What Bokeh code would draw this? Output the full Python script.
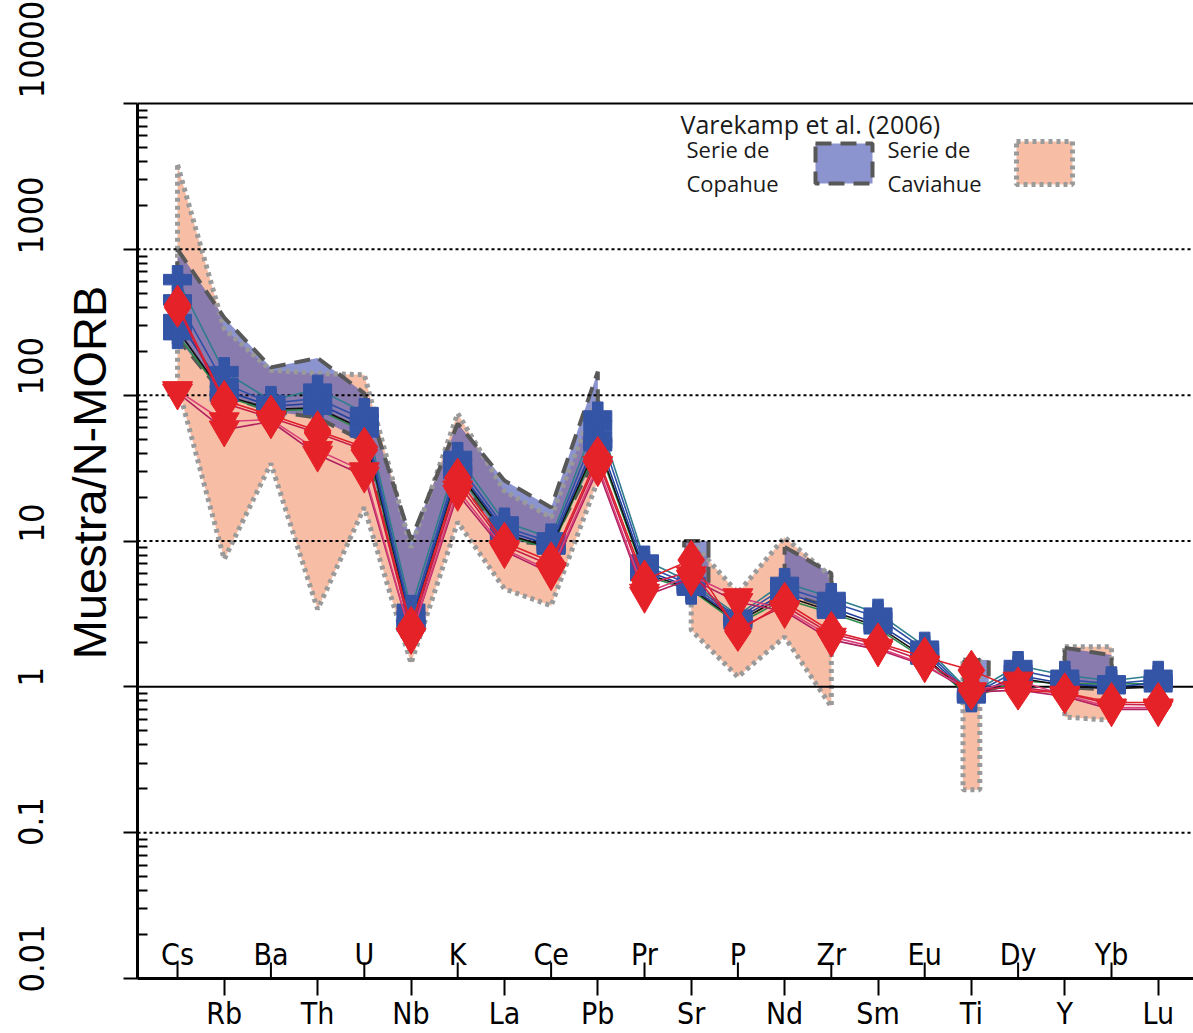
import numpy as np
from bokeh.plotting import figure
from bokeh.models import LogAxis, FixedTicker, Label, Range1d
from bokeh.core.properties import value
from bokeh.embed import file_html
from bokeh.resources import INLINE

# ---------------------------------------------------------------- data
elements = ["Cs", "Rb", "Ba", "Th", "U", "Nb", "K", "La", "Ce", "Pb", "Pr",
            "Sr", "P", "Nd", "Zr", "Sm", "Eu", "Ti", "Dy", "Y", "Yb", "Lu"]

decade_ticks = [0.01, 0.1, 1, 10, 100, 1000, 10000]
decade_labels = ["0.01", "0.1", "1", "10", "100", "1000", "10000"]

# Varekamp et al. (2006) - Serie de Caviahue envelope (upper / lower)
cav_env1_el = ["Cs", "Rb", "Ba", "Th", "U", "Nb", "K", "La", "Ce", "Pb"]
cav_env1_hi = [3800, 285, 148, 141, 138, 9.0, 75, 22, 14.5, 100]
cav_env1_lo = [118, 7.5, 34, 3.4, 17, 1.45, 13.5, 4.7, 3.6, 26]
cav_env2_el = ["Sr", "P", "Nd", "Zr"]
cav_env2_hi = [10, 4.4, 10.6, 5.7]
cav_env2_lo = [2.45, 1.17, 2.2, 0.73]
cav_env3_el = ["Ti"]
cav_env3_hi = [1.53]
cav_env3_lo = [0.197]
cav_env4_el = ["Y", "Yb"]
cav_env4_hi = [1.88, 1.88]
cav_env4_lo = [0.62, 0.59]

# Varekamp et al. (2006) - Serie de Copahue envelope (upper / lower)
cop_env1_el = ["Cs", "Rb", "Ba", "Th", "U", "Nb", "K", "La", "Ce", "Pb"]
cop_env1_hi = [1000, 340, 155, 180, 103, 10.2, 64, 26, 17, 145]
cop_env1_lo = [245, 100, 78, 70, 48, 2.6, 28, 10, 9.5, 40]
cop_env2_el = ["Sr"]
cop_env2_hi = [10]
cop_env2_lo = [5.2]
cop_env3_el = ["Nd", "Zr"]
cop_env3_hi = [9.1, 6.0]
cop_env3_lo = [4.4, 3.5]
cop_env4_el = ["Ti"]
cop_env4_hi = [1.53]
cop_env4_lo = [1.0]
cop_env5_el = ["Y", "Yb"]
cop_env5_hi = [1.85, 1.65]
cop_env5_lo = [1.0, 0.95]

# samples normalised to N-MORB (one value per element)
blue_1 = [620, 145, 92, 110, 76, 3.4, 38, 13.5, 10.5, 72, 7.4, 5.2, 3.1, 5.2, 4.1, 3.2, 1.9, 0.9, 1.4, 1.2, 1.1, 1.2]
blue_2 = [450, 120, 88, 95, 68, 3.0, 34, 12.5, 9.8, 62, 6.8, 5.0, 3.0, 4.8, 3.8, 3.0, 1.8, 0.88, 1.3, 1.12, 1.05, 1.12]
blue_3 = [330, 108, 84, 88, 62, 2.8, 31, 11.8, 9.3, 52, 6.3, 4.8, 2.9, 4.4, 3.5, 2.7, 1.7, 0.86, 1.2, 1.05, 1.0, 1.06]
blue_4 = [280, 100, 80, 82, 58, 2.7, 30, 11.2, 9.0, 47, 6.0, 4.7, 2.8, 4.2, 3.3, 2.6, 1.6, 0.85, 1.15, 1.02, 0.97, 1.0]
blue_5 = [260, 98, 78, 80, 56, 2.6, 29, 11.0, 8.8, 45, 5.8, 4.6, 2.7, 4.0, 3.2, 2.5, 1.55, 0.84, 1.1, 1.05, 1.05, 1.05]

red_1 = [415, 92, 73, 57, 44, 2.6, 27, 9.8, 7.2, 38, 5.4, 7.4, 2.4, 3.8, 2.4, 2.0, 1.6, 1.3, 0.95, 0.91, 0.78, 0.78]
red_2 = [400, 88, 70, 55, 42, 2.4, 25, 9.3, 6.8, 36, 5.0, 6.2, 2.5, 3.6, 2.3, 1.95, 1.5, 0.95, 1.0, 0.9, 0.76, 0.75]
red_3 = [108, 66, 68, 42, 30, 2.2, 22.5, 8.8, 6.2, 33, 4.4, 5.8, 4.1, 3.4, 2.2, 1.85, 1.42, 0.93, 1.1, 0.88, 0.72, 0.72]
red_4 = [104, 58, 66, 39, 28, 2.2, 21, 8.5, 6.0, 31, 4.2, 5.5, 3.8, 3.3, 2.1, 1.8, 1.4, 0.92, 0.95, 0.86, 0.7, 0.7]

# ---------------------------------------------------------------- layout
W, H = 1193, 1033
BL, BR, BT, BB = 137, 0, 0, 55
X0, X1 = -0.857, 21.756
Y0, YMAX = 0.01, 10000          # plotted decades
PX_PER_DECADE = 875 / 6.0
FW, FH = W - BL - BR, H - BT - BB
Y1 = 10 ** (np.log10(Y0) + FH / PX_PER_DECADE)   # frame top, headroom above 10000

def sx(px):
    return X0 + (px - BL) / FW * (X1 - X0)

def sy(py):
    return 10 ** (np.log10(Y1) - (py - BT) / PX_PER_DECADE)

def shift_up(v, px):
    return v * 10 ** (px / PX_PER_DECADE)

pos = {e: i for i, e in enumerate(elements)}
x_all = list(range(len(elements)))

COND = "DejaVu Sans Condensed"
TEXT_DROP = 10   # svg text renders this many px below the requested baseline

p = figure(width=W, height=H, x_range=Range1d(X0, X1), y_range=Range1d(Y0, Y1),
           y_axis_type="log", output_backend="svg", toolbar_location=None,
           min_border_left=BL, min_border_right=BR, min_border_top=BT,
           min_border_bottom=BB)
p.grid.visible = False
p.outline_line_color = None
p.background_fill_color = "white"
p.border_fill_color = "white"

# ---------------------------------------------------------------- axes
low_idx = [i for i in x_all if i % 2 == 1]
high_idx = [i for i in x_all if i % 2 == 0]

xax = p.below[0]
xax.ticker = FixedTicker(ticks=low_idx)
xax.major_label_overrides = {i: elements[i] for i in low_idx}
xax.major_tick_out = 17
xax.major_tick_in = 0
xax.minor_tick_in = 0
xax.minor_tick_out = 0
xax.axis_line_width = 3
xax.major_tick_line_width = 2
xax.major_label_standoff = 0
xax.major_label_text_font = COND
xax.major_label_text_font_size = "30px"
xax.major_label_text_color = "black"

# inner y axis: line and ticks only, limited to the plotted decades
minor = [m * d for d in decade_ticks[:-1] for m in range(2, 10)]
yax = p.left[0]
yax.bounds = (Y0, YMAX)
yax.ticker = FixedTicker(ticks=decade_ticks, minor_ticks=minor)
yax.major_tick_out = 14
yax.major_tick_in = 0
yax.minor_tick_in = 10
yax.minor_tick_out = 0
yax.axis_line_width = 3
yax.major_tick_line_width = 2
yax.minor_tick_line_width = 2
yax.major_label_text_font_size = "1px"
yax.major_label_text_color = None
yax.major_label_standoff = 0

# middle y axis: the title, centred a little above the middle of the plot
title_at = sy(472)
ytitle = LogAxis(ticker=FixedTicker(ticks=[title_at]),
                 major_label_overrides={title_at: "Muestra/N-MORB"},
                 major_tick_in=0, major_tick_out=0, minor_tick_in=0, minor_tick_out=0,
                 axis_line_color=None, major_label_orientation="vertical",
                 major_label_text_font="Liberation Sans", major_label_text_font_size="47px",
                 major_label_text_color="black", major_label_standoff=8)
p.add_layout(ytitle, "left")

# outer y axis: decade labels, each sitting just above its tick
label_lift_px = [20, 11, 10, 18, 29, 34, 54]
label_at = [shift_up(v, d) for v, d in zip(decade_ticks, label_lift_px)]
ylab = LogAxis(ticker=FixedTicker(ticks=label_at),
               major_label_overrides=dict(zip(label_at, decade_labels)),
               major_tick_in=0, major_tick_out=0, minor_tick_in=0, minor_tick_out=0,
               axis_line_color=None, major_label_orientation="vertical",
               major_label_text_font=COND, major_label_text_font_size="34px",
               major_label_text_color="black", major_label_standoff=16)
p.add_layout(ylab, "left")

# ---------------------------------------------------------------- envelopes
def envelope(els, hi, lo, pad_l, pad_r):
    xs = [pos[e] for e in els]
    if len(xs) == 1:
        xs = [xs[0] - pad_l, xs[0] + pad_r]
        hi = hi * 2
        lo = lo * 2
    return xs + xs[::-1] + [xs[0]], list(hi) + list(lo)[::-1] + [hi[0]]

cav_polys = [envelope(e, h, l, 0.18, 0.18) for e, h, l in [
    (cav_env1_el, cav_env1_hi, cav_env1_lo), (cav_env2_el, cav_env2_hi, cav_env2_lo),
    (cav_env3_el, cav_env3_hi, cav_env3_lo), (cav_env4_el, cav_env4_hi, cav_env4_lo)]]
cop_polys = [envelope(e, h, l, 0.15, 0.37) for e, h, l in [
    (cop_env1_el, cop_env1_hi, cop_env1_lo), (cop_env2_el, cop_env2_hi, cop_env2_lo),
    (cop_env3_el, cop_env3_hi, cop_env3_lo), (cop_env4_el, cop_env4_hi, cop_env4_lo),
    (cop_env5_el, cop_env5_hi, cop_env5_lo)]]

CAV_FILL = "#f8bea5"
COP_FILL = "#4553b3"
COP_ALPHA = 0.62

p.patches([c[0] for c in cav_polys], [c[1] for c in cav_polys],
          fill_color=CAV_FILL, line_color=None)
p.patches([c[0] for c in cop_polys], [c[1] for c in cop_polys],
          fill_color=COP_FILL, fill_alpha=COP_ALPHA, line_color=None)
p.multi_line([c[0] for c in cav_polys], [c[1] for c in cav_polys],
             line_color="#9a9a9a", line_width=5, line_dash="4 4")
p.multi_line([c[0] for c in cop_polys], [c[1] for c in cop_polys],
             line_color="#585858", line_width=4, line_dash="16 9")

# ---------------------------------------------------------------- reference lines
dotted = [0.1, 10, 100, 1000]
p.segment(x0=[X0] * len(dotted), x1=[X1] * len(dotted), y0=dotted, y1=dotted,
          line_color="black", line_width=2, line_dash="3 3")
p.segment(x0=[X0], x1=[X1], y0=[1], y1=[1], line_color="black", line_width=2)
p.segment(x0=[X0], x1=[X1], y0=[YMAX], y1=[YMAX], line_color="black", line_width=2)

# ---------------------------------------------------------------- samples
blue_series = [blue_5, blue_4, blue_3, blue_2, blue_1]
blue_lines = ["#2d8a4a", "#111111", "#1f3f9a", "#3050a8", "#2e7d8c"]
for vals, lc in zip(blue_series, blue_lines):
    p.line(x_all, vals, line_color=lc, line_width=1.6)
for vals in blue_series:
    p.scatter(x_all, vals, marker="plus", size=28, fill_color="#3454a6",
              line_color="#3454a6")

red_series = [red_4, red_3, red_2, red_1]
red_lines = ["#b02060", "#d9407a", "#c81e4a", "#e0202a"]
red_marks = ["inverted_triangle", "inverted_triangle", "diamond", "diamond"]
red_sizes = [30, 30, 40, 40]
for vals, lc in zip(red_series, red_lines):
    p.line(x_all, vals, line_color=lc, line_width=1.6)
for vals, mk, sz in zip(red_series, red_marks, red_sizes):
    p.scatter(x_all, vals, marker=mk, size=sz, fill_color="#e52228",
              line_color="#e52228")

# ---------------------------------------------------------------- inner x labels
tick_top = shift_up(Y0, 16)
label_base = shift_up(Y0, 14 + TEXT_DROP)
p.segment(x0=high_idx, x1=high_idx, y0=[Y0] * len(high_idx), y1=[tick_top] * len(high_idx),
          line_color="black", line_width=2)
p.text(x=high_idx, y=[label_base] * len(high_idx), text=[elements[i] for i in high_idx],
       text_font=value(COND), text_font_size="30px", text_align="center",
       text_baseline="alphabetic", text_color="black")

# ---------------------------------------------------------------- legend
def legend_text(txt, px, py, size):
    p.add_layout(Label(x=sx(px), y=sy(py - TEXT_DROP), text=txt, text_font="Open Sans",
                       text_font_size=size, text_color="#1a1a1a",
                       text_baseline="alphabetic", text_align="left"))

legend_text("Varekamp et al. (2006)", 680, 133, "25px")
legend_text("Serie de", 686, 158, "22px")
legend_text("Copahue", 686, 192, "22px")
legend_text("Serie de", 887, 158, "22px")
legend_text("Caviahue", 887, 192, "22px")

p.quad(left=[sx(815)], right=[sx(872)], top=[sy(143)], bottom=[sy(183)],
       fill_color=COP_FILL, fill_alpha=COP_ALPHA, line_color="#585858",
       line_width=4, line_dash="16 9")
p.quad(left=[sx(1016)], right=[sx(1072)], top=[sy(141)], bottom=[sy(184)],
       fill_color=CAV_FILL, line_color="#9a9a9a", line_width=5, line_dash="4 4")

open("out.html", "w").write(file_html(p, INLINE))
